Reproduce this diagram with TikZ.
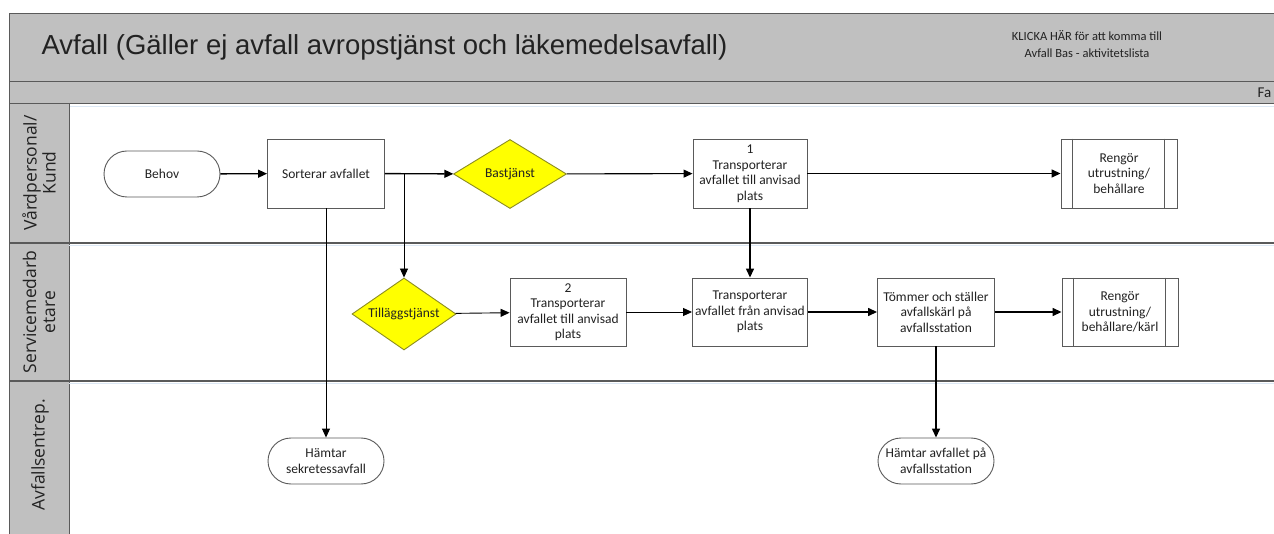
\documentclass[tikz,border=0pt]{standalone}
\usepackage{fontspec}
\setmainfont{Carlito}
\newfontfamily\titlefont{Liberation Sans}
\newfontfamily\lanefont{Open Sans}
\usetikzlibrary{shapes.geometric,arrows.meta}
\definecolor{bargray}{HTML}{C0C0C0}
\definecolor{edgegray}{HTML}{5A5A5A}
\definecolor{lightblue}{HTML}{DCE8F5}
\definecolor{dmdfill}{HTML}{FFFF00}
\definecolor{dmdedge}{HTML}{8C8C20}
\definecolor{txt}{HTML}{222222}
\tikzset{
  every node/.style={text=txt, font=\fontsize{13.5}{15.5}\selectfont, align=center},
  procbox/.style={draw=edgegray, line width=0.9pt, fill=white, minimum width=116pt, minimum height=69pt, inner sep=1pt},
  termbox/.style={draw=edgegray, line width=0.9pt, fill=white, rounded corners=23pt, minimum width=116pt, minimum height=46pt, inner sep=1pt},
  decision/.style={diamond, draw=dmdedge, line width=0.9pt, fill=dmdfill, inner sep=0pt},
  flow/.style={draw=black, line width=1.4pt, -{Triangle[length=9pt,width=8pt]}},
  midflow/.style={draw=black, line width=1.1pt, -{Triangle[length=9pt,width=8pt]}},
  thinflow/.style={draw=black, line width=0.9pt, -{Triangle[length=9pt,width=8pt]}},
  lanelabel/.style={rotate=90, font=\lanefont\fontsize{17.5}{19}\selectfont, text=txt},
  sepline/.style={draw=edgegray, line width=1.1pt},
  sepblue/.style={draw=lightblue, line width=1.6pt},
}
\begin{document}
\begin{tikzpicture}[x=1pt,y=-1pt]
\clip (0,0) rectangle (1274,534);
\fill[white] (0,0) rectangle (1274,534);
% title bar and strip
\filldraw[fill=bargray, draw=edgegray, line width=1pt] (9,14) rectangle (1290,82);
\filldraw[fill=bargray, draw=edgegray, line width=1pt] (9,82) rectangle (1290,104);
\draw[sepblue] (69,106.5) -- (1290,106.5);
% lane label column
\filldraw[fill=bargray, draw=edgegray, line width=1pt] (9,104) rectangle (69,540);
% lane separators
\draw[sepline] (9,243) -- (1290,243);
\draw[sepblue] (69,245.5) -- (1290,245.5);
\draw[sepline] (9,381) -- (1290,381);
\draw[sepblue] (69,383.5) -- (1290,383.5);
% texts in bars
\node[anchor=west, font=\titlefont\fontsize{27.5}{30}\selectfont] (title) at (38,47) {Avfall (Gäller ej avfall avropstjänst och läkemedelsavfall)};
\node[font=\fontsize{12.5}{17}\selectfont] (link) at (1087,44) {KLICKA HÄR för att komma till\\Avfall Bas - aktivitetslista};
\node[anchor=west, font=\fontsize{15}{16}\selectfont] (fas) at (1254,93) {Fa};
% lane labels
\node[lanelabel] (lane1) at (39,173) {Vårdpersonal/\\Kund};
\node[lanelabel] (lane2) at (39,312) {Servicemedarb\\etare};
\node[lanelabel] (lane3) at (40,455) {Avfallsentrep.};
% nodes
\node[termbox] (behov) at (162,174) {Behov};
\node[procbox, minimum width=117pt] (sort) at (326,173.5) {Sorterar avfallet};
\node[decision, minimum width=113pt, minimum height=69pt] (bas) at (510,174) {\makebox[0pt]{Bastjänst}};
\node[procbox, minimum width=114pt] (tr1) at (750,173.5) {1\\Transporterar\\avfallet till anvisad\\plats};
\node[procbox] (ren1) at (1119,173.5) {Rengör\\utrustning/\\behållare};
\draw[edgegray, line width=0.9pt] ([xshift=12pt]ren1.north west) -- ([xshift=12pt]ren1.south west);
\draw[edgegray, line width=0.9pt] ([xshift=-13pt]ren1.north east) -- ([xshift=-13pt]ren1.south east);
\node[decision, minimum width=104pt, minimum height=72pt] (till) at (404,314) {\makebox[0pt]{Tilläggstjänst}};
\node[procbox, minimum height=68pt] (tr2) at (568,312) {2\\Transporterar\\avfallet till anvisad\\plats};
\node[procbox, minimum width=115pt, minimum height=68pt] (trf) at (750,312) {Transporterar\\avfallet från anvisad\\plats};
\node[procbox, minimum width=117pt, minimum height=68pt] (tom) at (936,312) {Tömmer och ställer\\avfallskärl på\\avfallsstation};
\node[procbox, minimum height=68pt] (ren2) at (1120,312) {Rengör\\utrustning/\\behållare/kärl};
\draw[edgegray, line width=0.9pt] ([xshift=12pt]ren2.north west) -- ([xshift=12pt]ren2.south west);
\draw[edgegray, line width=0.9pt] ([xshift=-13pt]ren2.north east) -- ([xshift=-13pt]ren2.south east);
\node[termbox] (sek) at (326,461) {Hämtar\\sekretessavfall};
\node[termbox] (hav) at (936,461) {Hämtar avfallet på\\avfallsstation};
% connectors
\coordinate (br) at (404,174);
\draw[flow] (behov) -- (sort);
\draw[flow] (sort) -- (bas);
\draw[thinflow] (br) -- (till.north);
\draw[midflow] (bas) -- (tr1);
\draw[flow] (tr1) -- (ren1);
\draw[flow] (tr1) -- (trf);
\draw[thinflow] (sort) -- (sek);
\draw[thinflow] (till) -- (tr2);
\draw[thinflow] (tr2) -- (trf);
\draw[flow] (trf) -- (tom);
\draw[flow] (tom) -- (ren2);
\draw[flow] (tom) -- (hav);
\end{tikzpicture}
\end{document}
